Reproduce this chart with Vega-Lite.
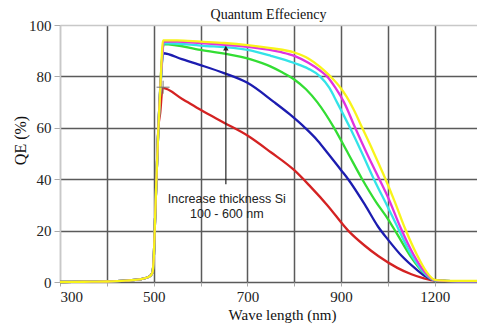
{
  "$schema": "https://vega.github.io/schema/vega-lite/v6.json",
  "width": 417,
  "height": 257,
  "autosize": {"type": "none"},
  "padding": {"left": 60, "top": 25, "right": 0, "bottom": 44},
  "background": "white",
  "config": {"view": {"stroke": null}, "font": "Liberation Serif"},
  "title": {"text": "Quantum Effeciency", "font": "Liberation Serif", "fontSize": 14, "fontWeight": "normal", "color": "#111", "anchor": "middle", "offset": -4},
  "datasets": {
    "qe": [
      {"s":"100 nm","x":300,"y":0},{"s":"100 nm","x":350,"y":0.1},{"s":"100 nm","x":400,"y":0.2},{"s":"100 nm","x":440,"y":0.5},{"s":"100 nm","x":470,"y":1.0},{"s":"100 nm","x":490,"y":2.0},{"s":"100 nm","x":497,"y":3.5},{"s":"100 nm","x":500,"y":9},{"s":"100 nm","x":503,"y":25},{"s":"100 nm","x":506,"y":41},{"s":"100 nm","x":510,"y":60},
      {"s":"100 nm","x":514,"y":66},{"s":"100 nm","x":519,"y":75.5},{"s":"100 nm","x":560,"y":71.3},{"s":"100 nm","x":600,"y":67},{"s":"100 nm","x":650,"y":62},{"s":"100 nm","x":700,"y":57},{"s":"100 nm","x":750,"y":50.5},{"s":"100 nm","x":800,"y":43.5},{"s":"100 nm","x":835,"y":37},{"s":"100 nm","x":870,"y":30},{"s":"100 nm","x":915,"y":20},{"s":"100 nm","x":950,"y":14.2},{"s":"100 nm","x":980,"y":10},{"s":"100 nm","x":1020,"y":5.5},{"s":"100 nm","x":1050,"y":3},{"s":"100 nm","x":1075,"y":1.5},{"s":"100 nm","x":1100,"y":0.5},{"s":"100 nm","x":1120,"y":0.4},{"s":"100 nm","x":1150,"y":0.3},{"s":"100 nm","x":1190,"y":0.3},

      {"s":"200 nm","x":300,"y":0},{"s":"200 nm","x":350,"y":0.1},{"s":"200 nm","x":400,"y":0.2},{"s":"200 nm","x":440,"y":0.5},{"s":"200 nm","x":470,"y":1.0},{"s":"200 nm","x":490,"y":2.0},{"s":"200 nm","x":497,"y":3.5},{"s":"200 nm","x":500,"y":9},{"s":"200 nm","x":503,"y":25},{"s":"200 nm","x":506,"y":41},{"s":"200 nm","x":510,"y":60},
      {"s":"200 nm","x":515,"y":78},{"s":"200 nm","x":520,"y":89},{"s":"200 nm","x":560,"y":86.7},{"s":"200 nm","x":600,"y":84.4},{"s":"200 nm","x":650,"y":81.3},{"s":"200 nm","x":700,"y":77.5},{"s":"200 nm","x":757,"y":70},{"s":"200 nm","x":790,"y":65.3},{"s":"200 nm","x":823,"y":60},{"s":"200 nm","x":850,"y":55},{"s":"200 nm","x":872,"y":50},{"s":"200 nm","x":900,"y":43.5},{"s":"200 nm","x":915,"y":40},{"s":"200 nm","x":951,"y":30},{"s":"200 nm","x":979,"y":21.5},{"s":"200 nm","x":1000,"y":16.5},{"s":"200 nm","x":1030,"y":10},{"s":"200 nm","x":1060,"y":5},{"s":"200 nm","x":1080,"y":2.2},{"s":"200 nm","x":1100,"y":0.6},{"s":"200 nm","x":1120,"y":0.4},{"s":"200 nm","x":1150,"y":0.3},{"s":"200 nm","x":1190,"y":0.3},

      {"s":"300 nm","x":300,"y":0},{"s":"300 nm","x":350,"y":0.1},{"s":"300 nm","x":400,"y":0.2},{"s":"300 nm","x":440,"y":0.5},{"s":"300 nm","x":470,"y":1.0},{"s":"300 nm","x":490,"y":2.0},{"s":"300 nm","x":497,"y":3.5},{"s":"300 nm","x":500,"y":9},{"s":"300 nm","x":503,"y":25},{"s":"300 nm","x":506,"y":41},{"s":"300 nm","x":510,"y":60},
      {"s":"300 nm","x":517,"y":85},{"s":"300 nm","x":521,"y":92.6},{"s":"300 nm","x":600,"y":90.3},{"s":"300 nm","x":700,"y":87},{"s":"300 nm","x":750,"y":83.8},{"s":"300 nm","x":775,"y":81.5},{"s":"300 nm","x":800,"y":78.8},{"s":"300 nm","x":825,"y":75},{"s":"300 nm","x":849,"y":70},{"s":"300 nm","x":885,"y":60},{"s":"300 nm","x":915,"y":50},{"s":"300 nm","x":945,"y":40},{"s":"300 nm","x":975,"y":31},{"s":"300 nm","x":1000,"y":24.5},{"s":"300 nm","x":1020,"y":18.5},{"s":"300 nm","x":1050,"y":9.5},{"s":"300 nm","x":1075,"y":3.8},{"s":"300 nm","x":1100,"y":0.6},{"s":"300 nm","x":1120,"y":0.4},{"s":"300 nm","x":1150,"y":0.3},{"s":"300 nm","x":1190,"y":0.3},

      {"s":"400 nm","x":300,"y":0},{"s":"400 nm","x":350,"y":0.1},{"s":"400 nm","x":400,"y":0.2},{"s":"400 nm","x":440,"y":0.5},{"s":"400 nm","x":470,"y":1.0},{"s":"400 nm","x":490,"y":2.0},{"s":"400 nm","x":497,"y":3.5},{"s":"400 nm","x":500,"y":9},{"s":"400 nm","x":503,"y":25},{"s":"400 nm","x":506,"y":41},{"s":"400 nm","x":510,"y":60},
      {"s":"400 nm","x":518,"y":86},{"s":"400 nm","x":521,"y":93},{"s":"400 nm","x":600,"y":92},{"s":"400 nm","x":700,"y":90.3},{"s":"400 nm","x":750,"y":88},{"s":"400 nm","x":800,"y":85.2},{"s":"400 nm","x":830,"y":83},{"s":"400 nm","x":855,"y":80},{"s":"400 nm","x":875,"y":75.5},{"s":"400 nm","x":891,"y":70},{"s":"400 nm","x":919,"y":60},{"s":"400 nm","x":945,"y":50},{"s":"400 nm","x":970,"y":40},{"s":"400 nm","x":1000,"y":29},{"s":"400 nm","x":1020,"y":21.5},{"s":"400 nm","x":1050,"y":10.5},{"s":"400 nm","x":1075,"y":4},{"s":"400 nm","x":1100,"y":0.6},{"s":"400 nm","x":1120,"y":0.4},{"s":"400 nm","x":1150,"y":0.3},{"s":"400 nm","x":1190,"y":0.3},

      {"s":"500 nm","x":300,"y":0},{"s":"500 nm","x":350,"y":0.1},{"s":"500 nm","x":400,"y":0.2},{"s":"500 nm","x":440,"y":0.5},{"s":"500 nm","x":470,"y":1.0},{"s":"500 nm","x":490,"y":2.0},{"s":"500 nm","x":497,"y":3.5},{"s":"500 nm","x":500,"y":9},{"s":"500 nm","x":503,"y":25},{"s":"500 nm","x":506,"y":41},{"s":"500 nm","x":510,"y":60},
      {"s":"500 nm","x":518,"y":87},{"s":"500 nm","x":521,"y":93.6},{"s":"500 nm","x":600,"y":93},{"s":"500 nm","x":700,"y":91.5},{"s":"500 nm","x":770,"y":89.5},{"s":"500 nm","x":800,"y":88},{"s":"500 nm","x":830,"y":85.3},{"s":"500 nm","x":855,"y":82.3},{"s":"500 nm","x":870,"y":80},{"s":"500 nm","x":888,"y":75.5},{"s":"500 nm","x":906,"y":70},{"s":"500 nm","x":930,"y":60},{"s":"500 nm","x":955,"y":50},{"s":"500 nm","x":983,"y":39.5},{"s":"500 nm","x":1000,"y":33},{"s":"500 nm","x":1026,"y":21.5},{"s":"500 nm","x":1055,"y":10.5},{"s":"500 nm","x":1078,"y":4},{"s":"500 nm","x":1100,"y":0.7},{"s":"500 nm","x":1120,"y":0.4},{"s":"500 nm","x":1150,"y":0.3},{"s":"500 nm","x":1190,"y":0.3},

      {"s":"600 nm","x":300,"y":0},{"s":"600 nm","x":350,"y":0.1},{"s":"600 nm","x":400,"y":0.2},{"s":"600 nm","x":440,"y":0.5},{"s":"600 nm","x":470,"y":1.0},{"s":"600 nm","x":490,"y":2.0},{"s":"600 nm","x":497,"y":3.5},{"s":"600 nm","x":500,"y":9},{"s":"600 nm","x":503,"y":25},{"s":"600 nm","x":506,"y":41},{"s":"600 nm","x":510,"y":60},
      {"s":"600 nm","x":514,"y":75},{"s":"600 nm","x":520,"y":94},{"s":"600 nm","x":550,"y":94},{"s":"600 nm","x":600,"y":93.5},{"s":"600 nm","x":650,"y":93},{"s":"600 nm","x":700,"y":92.2},{"s":"600 nm","x":750,"y":91},{"s":"600 nm","x":800,"y":89.3},{"s":"600 nm","x":830,"y":87},{"s":"600 nm","x":855,"y":83.7},{"s":"600 nm","x":877,"y":80},{"s":"600 nm","x":897,"y":76},{"s":"600 nm","x":912,"y":72},{"s":"600 nm","x":927,"y":67},{"s":"600 nm","x":945,"y":60},{"s":"600 nm","x":968,"y":51},{"s":"600 nm","x":990,"y":42},{"s":"600 nm","x":1015,"y":31},{"s":"600 nm","x":1036,"y":21},{"s":"600 nm","x":1062,"y":10.5},{"s":"600 nm","x":1082,"y":4},{"s":"600 nm","x":1100,"y":0.8},{"s":"600 nm","x":1120,"y":0.5},{"s":"600 nm","x":1150,"y":0.4},{"s":"600 nm","x":1190,"y":0.4}
    ],
    "note": [
      {"x": 654, "y1": 38, "y2": 91, "px": 520, "py": 75.8}
    ],
    "label": [
      {"x": 656, "y": 32.3, "t": "Increase thickness Si"},
      {"x": 656, "y": 26.5, "t": "100 - 600 nm"}
    ]
  },
  "layer": [
    {
      "data": {"name": "qe"},
      "mark": {"type": "line", "strokeWidth": 2.3, "interpolate": "monotone"},
      "encoding": {
        "x": {
          "field": "x", "type": "quantitative",
          "scale": {"domain": [300, 1190], "nice": false, "zero": false},
          "axis": {
            "values": [300, 400, 500, 600, 700, 800, 900, 1000, 1100],
            "labelExpr": "datum.value == 1100 ? '1200' : (datum.value % 200 == 100 ? datum.label : '')",
            "format": "d",
            "grid": true,
            "gridColor": {"condition": {"test": "datum.value == 300", "value": "#c8c8c8"}, "value": "#5a5a5a"},
            "gridWidth": 1.5,
            "domain": false,
            "tickColor": "#aaaaaa",
            "tickSize": 4,
            "labelFont": "Liberation Serif",
            "labelFontSize": 15,
            "labelColor": "#222",
            "labelPadding": 3,
            "title": "Wave length (nm)",
            "titleFont": "Liberation Serif",
            "titleFontSize": 15,
            "titleFontWeight": "normal",
            "titleColor": "#111",
            "titleX": 222,
            "titlePadding": 3
          }
        },
        "y": {
          "field": "y", "type": "quantitative",
          "scale": {"domain": [0, 100], "nice": false},
          "axis": {
            "values": [0, 10, 20, 30, 40, 50, 60, 70, 80, 90, 100],
            "labelExpr": "datum.value % 20 == 0 ? datum.label : ''",
            "grid": true,
            "gridColor": {"condition": {"test": "datum.value == 100", "value": "#c8c8c8"}, "value": "#5a5a5a"},
            "gridWidth": 1.5,
            "domainColor": "#c8c8c8",
            "domainWidth": 1.5,
            "tickColor": "#aaaaaa",
            "tickSize": 6,
            "labelFont": "Liberation Serif",
            "labelFontSize": 15,
            "labelColor": "#222",
            "labelPadding": 3,
            "title": "QE (%)",
            "titleFont": "Liberation Serif",
            "titleFontSize": 16,
            "titleFontWeight": "normal",
            "titleColor": "#111",
            "titleAngle": -90,
            "titleAlign": "center",
            "titleBaseline": "middle",
            "titleX": -40,
            "titleY": 115
          }
        },
        "color": {
          "field": "s", "type": "nominal",
          "scale": {
            "domain": ["100 nm", "200 nm", "300 nm", "400 nm", "500 nm", "600 nm"],
            "range": ["#d42222", "#1c1cb0", "#33dd33", "#33e3e8", "#e032e0", "#f8f41a"]
          },
          "legend": null
        }
      }
    },
    {
      "data": {"name": "note"},
      "mark": {"type": "rule", "color": "#222", "strokeWidth": 1.2},
      "encoding": {
        "x": {"field": "x", "type": "quantitative"},
        "y": {"field": "y1", "type": "quantitative"},
        "y2": {"field": "y2"}
      }
    },
    {
      "data": {"name": "note"},
      "mark": {"type": "point", "shape": "triangle-up", "filled": true, "color": "#222", "size": 30, "opacity": 1},
      "encoding": {
        "x": {"field": "x", "type": "quantitative"},
        "y": {"field": "y2", "type": "quantitative"}
      }
    },
    {
      "data": {"name": "note"},
      "mark": {"type": "point", "shape": "M-1,0H1M0,-1V1", "filled": false, "stroke": "#777", "strokeWidth": 1, "size": 170, "opacity": 1},
      "encoding": {
        "x": {"field": "px", "type": "quantitative"},
        "y": {"field": "py", "type": "quantitative"}
      }
    },
    {
      "data": {"name": "label"},
      "mark": {"type": "text", "font": "Liberation Sans", "fontSize": 12.5, "color": "#222", "align": "center", "baseline": "middle"},
      "encoding": {
        "x": {"field": "x", "type": "quantitative"},
        "y": {"field": "y", "type": "quantitative"},
        "text": {"field": "t"}
      }
    }
  ]
}
